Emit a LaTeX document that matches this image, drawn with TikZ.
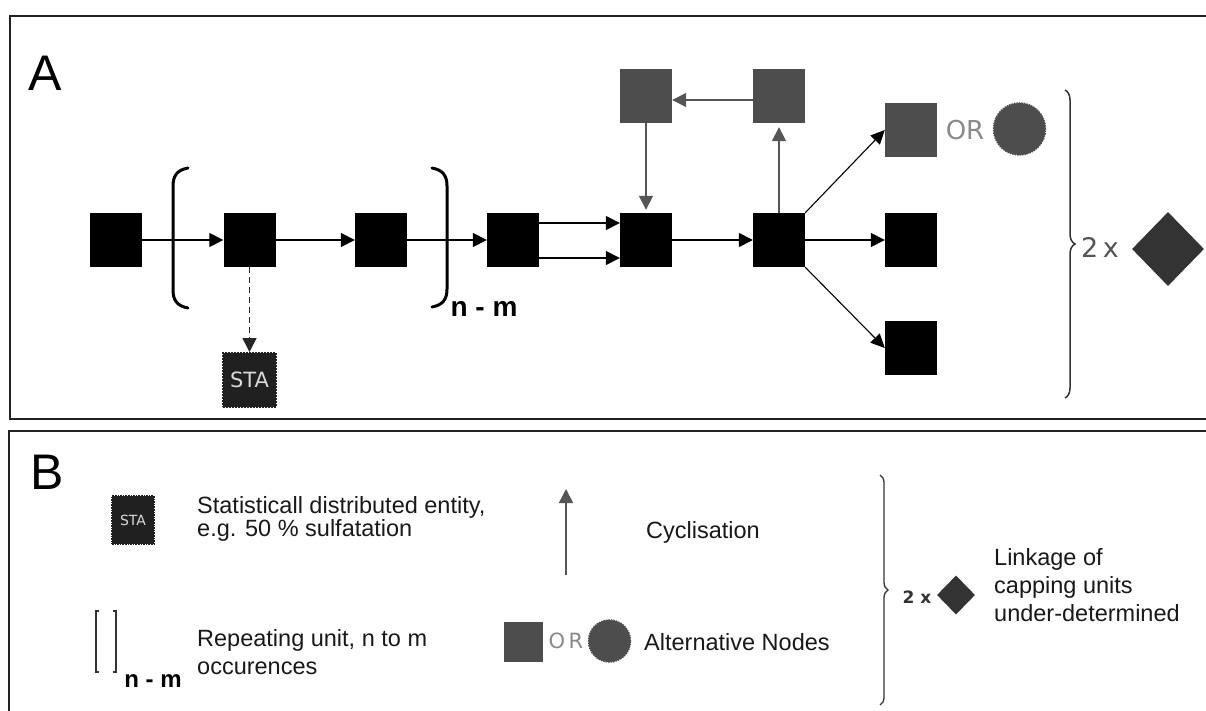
\documentclass[tikz,border=0pt]{standalone}
\usepackage{fontspec}
\setmainfont{Liberation Sans}
\newfontfamily\djv{DejaVu Sans}
\usetikzlibrary{arrows.meta,calc,decorations.pathreplacing,shapes.geometric}

\definecolor{nodegray}{HTML}{4D4D4D}
\definecolor{capgray}{HTML}{333333}
\definecolor{staink}{HTML}{202020}
\definecolor{orgray}{HTML}{8A8A8A}
\definecolor{cyclegray}{HTML}{555555}
\definecolor{framegray}{HTML}{222222}

\begin{document}
\begin{tikzpicture}[x=1pt,y=-1pt,
  frame/.style={draw=framegray,line width=2pt},
  paneltag/.style={font=\fontsize{50}{50}\selectfont,inner sep=0pt},
  unit/.style={fill=black,minimum width=52pt,minimum height=54pt,inner sep=0pt},
  cycunit/.style={unit,fill=nodegray},
  altcircle/.style={circle,fill=nodegray,draw=nodegray,densely dotted,line width=1.5pt,inner sep=0pt},
  stabox/.style={fill=staink,draw=staink,densely dotted,line width=2pt,inner sep=0pt,text=white!85!black},
  capunit/.style={diamond,fill=capgray,inner sep=0pt},
  ortext/.style={text=orgray,font=\djv\fontsize{26}{26}\selectfont,inner sep=0pt},
  link/.style={line width=1.6pt,-{Triangle[length=14pt,width=14pt]}},
  thinlink/.style={line width=1.1pt,-{Triangle[length=14pt,width=13pt]}},
  cyclink/.style={line width=1.6pt,draw=cyclegray,-{Triangle[length=14pt,width=14pt,fill=cyclegray]}},
  stalink/.style={line width=1.6pt,draw=black!85,dash pattern=on 6pt off 4pt,-{Triangle[length=14pt,width=14pt,fill=black!85]}},
  bracket/.style={line width=3pt,line cap=round},
  legbracket/.style={line width=1.4pt,draw=black!80},
  capbrace/.style={decorate,draw=capgray,line width=1.5pt},
  legend/.style={anchor=west,align=left,inner sep=0pt,text=black!90,font=\fontsize{23.5}{28}\selectfont},
  subscript/.style={inner sep=0pt,font=\bfseries\fontsize{28}{28}\selectfont}
]
\useasboundingbox (0,0) rectangle (1206,711);
\clip (0,0) rectangle (1206,711);
\fill[white] (0,0) rectangle (1206,711);

% panel frames (open to the right and below)
\draw[frame] (10,16) rectangle (1240,419);
\draw[frame] (9,431) rectangle (1240,760);

% ---------------- panel A ----------------
\node[paneltag] (tagA) at (45,73) {A};

% backbone
\node[unit] (s1) at (116,240) {};
\node[unit] (s2) at (249.5,240) {};
\node[unit] (s3) at (381,240) {};
\node[unit] (s4) at (513,240) {};
\node[unit] (s5) at (646,240) {};
\node[unit] (s6) at (779,240) {};
\node[unit] (s7) at (911,240) {};
\node[unit] (s8) at (911,348) {};

% ring closure units
\node[cycunit] (g1) at (646,96) {};
\node[cycunit] (g2) at (779,96) {};

% alternative terminal unit
\node[cycunit] (g3) at (911,130) {};
\node[ortext] (orA) at (965,130) {OR};
\node[altcircle,minimum size=52pt] (c3) at (1019.5,129) {};

% statistically distributed substituent
\node[stabox,minimum width=53pt,minimum height=54pt,font=\djv\fontsize{21}{21}\selectfont] (sta) at (249.5,380) {STA};

% linkages
\draw[link] (s1) -- (s2);
\draw[link] (s2) -- (s3);
\draw[link] (s3) -- (s4);
\draw[link] ($(s4.east)+(0,-17)$) -- ($(s5.west)+(0,-17)$);
\draw[link] ($(s4.east)+(0,18)$) -- ($(s5.west)+(0,18)$);
\draw[link] (s5) -- (s6);
\draw[link] (s6) -- (s7);
\draw[thinlink] (s6.north east) -- (g3.west);
\draw[thinlink] (s6.south east) -- (s8.west);
\draw[cyclink,shorten >=4pt] (s6.north) -- (g2.south);
\draw[cyclink] ($(g2.west)+(0,4)$) -- ($(g1.east)+(0,4)$);
\draw[cyclink,shorten >=3pt] (g1.south) -- (s5.north);
\draw[stalink] (s2.south) -- (sta.north);

% repeating-unit brackets
\draw[bracket] (188,168) .. controls (177,170) and (173,176) .. (173,186)
  -- (173,290) .. controls (173,300) and (177,306) .. (188,308);
\draw[bracket] (432,168) .. controls (443,170) and (447,176) .. (447,186)
  -- (447,289) .. controls (447,299) and (443,305) .. (432,307);
\node[subscript] (nmA) at (484,309) {n - m};

% capping units
\coordinate (braceAtop) at (1065,90);
\coordinate (braceAbot) at (1065,398);
\draw[capbrace,decoration={brace,amplitude=10pt}] (braceAtop) -- (braceAbot);
\node[inner sep=0pt,text=cyclegray,font=\djv\fontsize{27}{27}\selectfont] (twoA) at (1100,247) {2\,x};
\node[capunit,minimum width=72pt,minimum height=74pt] (capA) at (1168,249) {};

% ---------------- panel B ----------------
\node[paneltag] (tagB) at (47,472) {B};

\node[stabox,minimum width=42pt,minimum height=48pt,line width=1.6pt,font=\djv\fontsize{14}{14}\selectfont] (staB) at (133,520) {STA};
\node[legend,font=\fontsize{23.5}{21}\selectfont] (staText) at (197,519)
  {Statisticall distributed entity,\\e.g. 50 \% sulfatation};

\draw[legbracket] (99,611) -- (96,611) -- (96,672) -- (99,672);
\draw[legbracket] (113,611) -- (116,611) -- (116,672) -- (113,672);
\node[inner sep=0pt,font=\bfseries\fontsize{24}{24}\selectfont] (nmB) at (153,681) {n - m};
\node[legend] (repText) at (197,652) {Repeating unit, n to m\\occurences};

\coordinate (cycFoot) at (566,575);
\coordinate (cycHead) at (566,489);
\draw[cyclink] (cycFoot) -- (cycHead);
\node[legend] (cycText) at (646,532) {Cyclisation};

\node[cycunit,minimum width=39pt,minimum height=40pt] (altSq) at (523.5,642) {};
\node[ortext,font=\djv\fontsize{21}{21}\selectfont] (orB) at (566,641) {O\,R};
\node[altcircle,minimum size=42pt] (altCi) at (609.5,641) {};
\node[legend] (altText) at (644,642) {Alternative Nodes};

\coordinate (braceBtop) at (880,475);
\coordinate (braceBbot) at (880,705);
\draw[capbrace,line width=1.3pt,decoration={brace,amplitude=8pt}] (braceBtop) -- (braceBbot);
\node[inner sep=0pt,text=capgray,font=\djv\bfseries\fontsize{17}{17}\selectfont] (twoB) at (917,597) {2 x};
\node[capunit,minimum width=38pt,minimum height=39pt] (capB) at (956,595) {};
\node[legend] (capText) at (994,585) {Linkage of\\capping units\\under-determined};
\end{tikzpicture}
\end{document}
